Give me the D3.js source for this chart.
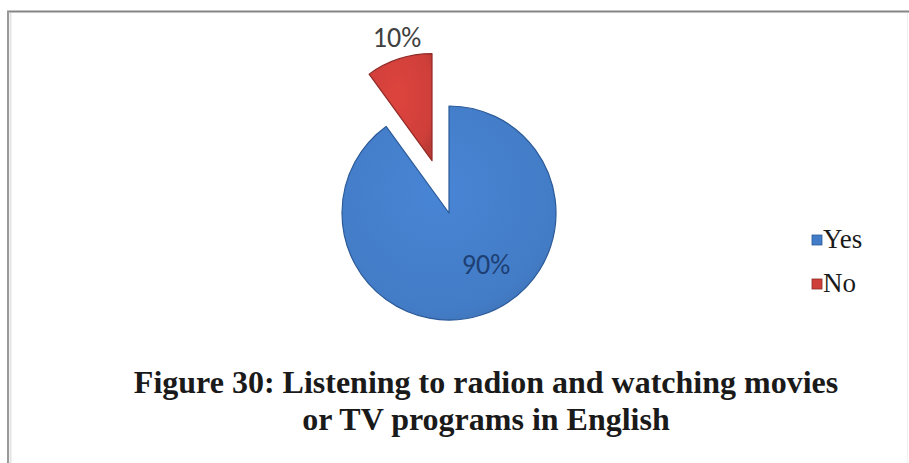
<!DOCTYPE html>
<html>
<head>
<meta charset="utf-8">
<script src="https://cdn.jsdelivr.net/npm/d3@7"></script>
<style>
  html, body { margin: 0; padding: 0; background: #fff; }
  svg { display: block; }
</style>
</head>
<body>
<svg id="chart" width="909" height="463"></svg>
<script>
// Survey answers
const categories = ["Yes", "No"];
const values = [90, 10];
const labels = ["90%", "10%"];
const titleLines = [
  "Figure 30: Listening to radion and watching movies",
  "or TV programs in English"
];

const W = 909, H = 463;
const svg = d3.select("#chart");

const colors = d3.scaleOrdinal()
  .domain(categories)
  .range(["#437cc6", "#cf3f3a"]);
const edge = d3.scaleOrdinal()
  .domain(categories)
  .range(["#2b5a98", "#8f2a27"]);

// Frame: grey rule along top and left side
svg.append("rect").attr("x", 0).attr("y", 0).attr("width", W).attr("height", H).attr("fill", "#fff");
svg.append("line").attr("x1", 7).attr("x2", W).attr("y1", 11.5).attr("y2", 11.5)
  .attr("stroke", "#858585").attr("stroke-width", 2);
svg.append("line").attr("x1", 8).attr("x2", 8).attr("y1", 11).attr("y2", H)
  .attr("stroke", "#9a9a9a").attr("stroke-width", 2);
svg.append("line").attr("x1", 10.5).attr("x2", 10.5).attr("y1", 13).attr("y2", H)
  .attr("stroke", "#e4e4e4").attr("stroke-width", 2);
svg.append("line").attr("x1", 907.5).attr("x2", 907.5).attr("y1", 13).attr("y2", H)
  .attr("stroke", "#f0f0f0").attr("stroke-width", 1);

// Gradients for a soft bevelled look
const defs = svg.append("defs");
categories.forEach((c, i) => {
  const g = defs.append("radialGradient").attr("id", "grad" + i)
    .attr("cx", "45%").attr("cy", "40%").attr("r", "70%");
  const base = d3.color(colors(c));
  g.append("stop").attr("offset", "0%").attr("stop-color", base.brighter(0.2));
  g.append("stop").attr("offset", "80%").attr("stop-color", base);
  g.append("stop").attr("offset", "100%").attr("stop-color", base.darker(0.3));
});

const cx = 449, cy = 213, R = 107;
const explode = 55;

const pie = d3.pie().sort(null).value(d => d.value);
const data = pie(categories.map((c, i) => ({ cat: c, value: values[i], label: labels[i] })));
const arc = d3.arc().innerRadius(0).outerRadius(R);

const g = svg.append("g").attr("transform", `translate(${cx},${cy})`);

function offset(d) {
  // pull the "No" slice away from the centre along its bisector
  if (d.data.cat !== "No") return [0, 0];
  const a = (d.startAngle + d.endAngle) / 2;
  return [Math.sin(a) * explode, -Math.cos(a) * explode];
}

const slices = g.selectAll("g.slice").data(data).join("g")
  .attr("class", "slice")
  .attr("transform", d => `translate(${offset(d)})`);

slices.append("path")
  .attr("d", arc)
  .attr("fill", (d, i) => `url(#grad${i})`)
  .attr("stroke", d => edge(d.data.cat))
  .attr("stroke-width", 1.2)
  .attr("stroke-linejoin", "round");

// Value labels
const labelPos = { "Yes": [37, 54], "No": [-35, -120] };
slices.append("text")
  .attr("x", d => labelPos[d.data.cat][0])
  .attr("y", d => labelPos[d.data.cat][1])
  .attr("text-anchor", "middle")
  .attr("dominant-baseline", "middle")
  .attr("font-family", "Carlito, 'Liberation Sans', Arial, sans-serif")
  .attr("font-size", 28)
  .attr("fill", d => d.data.cat === "Yes" ? "#1d3f73" : "#404040")
  .text(d => d.data.label);

// Legend
const legend = svg.append("g").attr("transform", "translate(812,240)");
const items = legend.selectAll("g").data(categories).join("g")
  .attr("transform", (d, i) => `translate(0,${i * 44})`);
items.append("rect")
  .attr("x", 0).attr("y", -5).attr("width", 10).attr("height", 10)
  .attr("fill", d => colors(d))
  .attr("stroke", d => edge(d)).attr("stroke-width", 0.8);
items.append("text")
  .attr("x", 11).attr("y", 7.5)
  .attr("font-family", "'Liberation Serif', 'Times New Roman', serif")
  .attr("font-size", 27)
  .attr("fill", "#1a1a1a")
  .text(d => d);

// Caption
const title = svg.append("g");
titleLines.forEach((t, i) => {
  title.append("text")
    .attr("x", 486).attr("y", 393 + i * 37)
    .attr("text-anchor", "middle")
    .attr("font-family", "'Liberation Serif', 'Times New Roman', serif")
    .attr("font-weight", "bold")
    .attr("font-size", 32)
    .attr("fill", "#1a1a1a")
    .text(t);
});
</script>
</body>
</html>
